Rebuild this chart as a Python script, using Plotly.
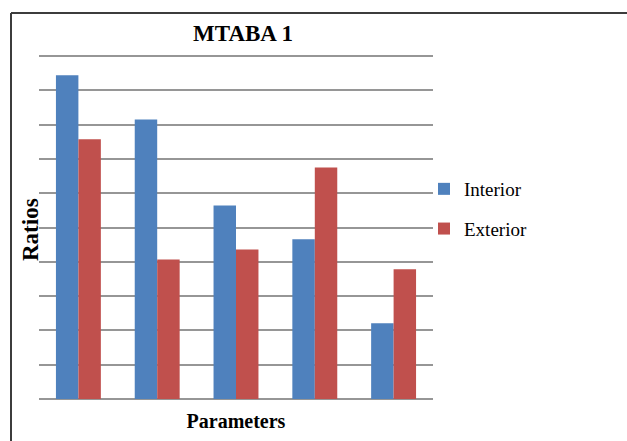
import plotly.graph_objects as go

# Parameter groups (axis carries no tick labels)
categories = ["P1", "P2", "P3", "P4", "P5"]
interior = [9.44, 8.15, 5.64, 4.66, 2.21]
exterior = [7.57, 4.07, 4.36, 6.75, 3.78]

BLUE = "#4F81BD"
RED = "#C0504D"
SERIF = "Liberation Serif, Times New Roman, serif"

fig = go.Figure()
fig.add_trace(go.Bar(x=categories, y=interior, name="Interior",
                     marker=dict(color=BLUE, line=dict(width=0)),
                     legendgroup="a"))
fig.add_trace(go.Bar(x=categories, y=exterior, name="Exterior",
                     marker=dict(color=RED, line=dict(width=0)),
                     legendgroup="b"))

W, H = 627, 441
L, R, T, B = 39, 194, 52, 42
pw, ph = W - L - R, H - T - B
unit = (H - B - 56) / 10          # pixels per grid step
ymax = 10 + (56 - T) / unit       # headroom so the top gridline is drawn

def px_x(x):
    return (x - L) / pw

def px_y(y):
    return (H - B - y) / ph

fig.update_layout(
    width=W, height=H,
    margin=dict(l=L, r=R, t=T, b=B),
    paper_bgcolor="white", plot_bgcolor="white",
    barmode="group", bargap=0.43, bargroupgap=0,
    font=dict(family=SERIF, color="black"),
    title=dict(text="<b>MTABA 1</b>", x=px_x(243), xref="paper", xanchor="center",
               y=1 - 33 / H, yanchor="middle", font=dict(size=23, family=SERIF)),
    xaxis=dict(showticklabels=False, showgrid=False, zeroline=False,
               ticks="", showline=False,
               title=dict(text="<b>Parameters</b>", font=dict(size=20, family=SERIF),
                          standoff=14)),
    yaxis=dict(range=[0, ymax], tickvals=list(range(0, 11)), showticklabels=False,
               ticks="", showgrid=True, gridcolor="#969696", gridwidth=1.6,
               zeroline=True, zerolinecolor="#969696", zerolinewidth=1.6,
               showline=False),
    legend=dict(x=px_x(424), xanchor="left", y=px_y(170), yanchor="top",
                font=dict(size=19, family=SERIF), traceorder="grouped",
                tracegroupgap=12, bgcolor="rgba(0,0,0,0)"),
    annotations=[
        dict(text="<b>Ratios</b>", textangle=-90, showarrow=False,
             xref="paper", yref="paper", x=px_x(30), y=px_y(230),
             xanchor="center", yanchor="middle",
             font=dict(size=23, family=SERIF)),
    ],
    shapes=[
        dict(type="line", xref="paper", yref="paper",
             x0=px_x(11), x1=px_x(640), y0=px_y(13), y1=px_y(13),
             line=dict(color="#3c3c3c", width=2)),
        dict(type="line", xref="paper", yref="paper",
             x0=px_x(11), x1=px_x(11), y0=px_y(13), y1=px_y(450),
             line=dict(color="#3c3c3c", width=2)),
    ],
)

fig.write_html("out.html")
